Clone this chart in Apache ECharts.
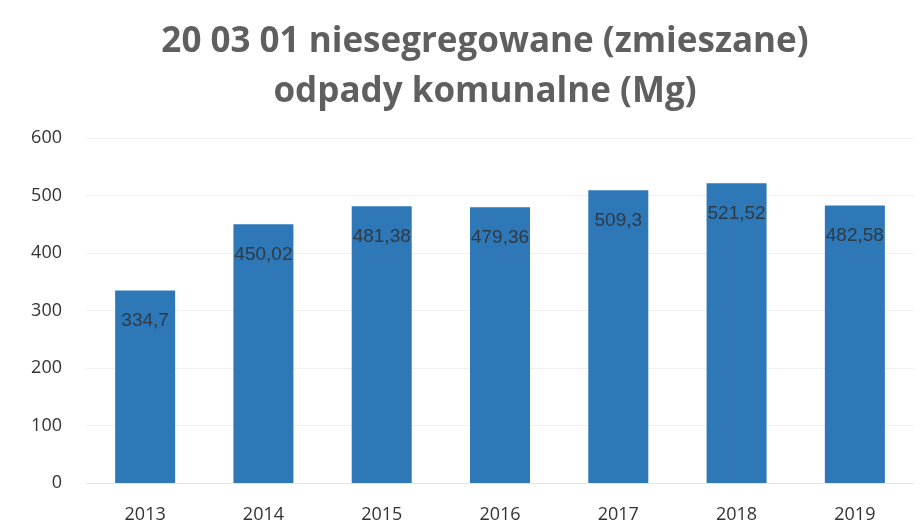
<!DOCTYPE html>
<html><head><meta charset="utf-8">
<script src="https://cdn.jsdelivr.net/npm/echarts@6/dist/echarts.min.js"></script>
<style>html,body{margin:0;padding:0;background:#fff}#c{width:922px;height:529px}</style>
</head><body><div id="c"></div>
<script>
const categories = ['2013','2014','2015','2016','2017','2018','2019'];
const values = [334.7, 450.02, 481.38, 479.36, 509.3, 521.52, 482.58];
const labelTexts = ['334,7','450,02','481,38','479,36','509,3','521,52','482,58'];
const yTicks = [0,100,200,300,400,500,600];

const chart = echarts.init(document.getElementById('c'));
chart.setOption({
  animation: false,
  title: {
    text: '20 03 01 niesegregowane (zmieszane)\nodpady komunalne (Mg)',
    left: 480, top: 12, textAlign: 'center',
    textStyle: {fontFamily: 'Open Sans', fontWeight: 'bold', fontSize: 35, color: '#5f5f5f', lineHeight: 50}
  },
  grid: {left: 86, right: 8, top: 138, bottom: 46},
  xAxis: {
    type: 'category', data: categories,
    axisLine: {lineStyle: {color: '#e6e6e6'}}, axisTick: {show: false},
    axisLabel: {fontFamily: 'Open Sans', fontSize: 18, color: '#333', margin: 23}
  },
  yAxis: {
    type: 'value', min: 0, max: 600, interval: 100,
    axisLine: {show: false}, axisTick: {show: false},
    splitLine: {lineStyle: {color: '#f0f0f0'}},
    axisLabel: {fontFamily: 'Open Sans', fontSize: 18, color: '#333', margin: 24,
      formatter: v => yTicks.includes(v) ? String(v) : ''}
  },
  series: [{
    type: 'bar', data: values, barWidth: 60,
    itemStyle: {color: '#2e78b7'},
    label: {show: true, position: 'insideTop', distance: 21,
      fontFamily: 'Liberation Sans', fontSize: 19, color: '#2f3a44',
      formatter: p => labelTexts[p.dataIndex]}
  }]
});
</script></body></html>
